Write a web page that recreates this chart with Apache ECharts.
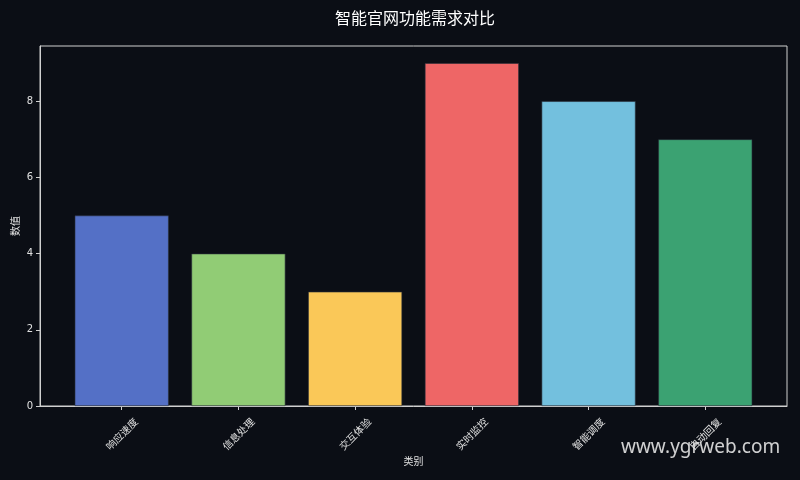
<!DOCTYPE html>
<html>
<head>
<meta charset="utf-8">
<script src="https://cdn.jsdelivr.net/npm/echarts@6/dist/echarts.min.js"></script>
<style>
html,body{margin:0;padding:0;background:#0b0e15;}
#c{width:800px;height:480px;}
</style>
</head>
<body>
<div id="c"></div>
<script>
const categories = ['响应速度', '信息处理', '交互体验', '实时监控', '智能调度', '自动回复'];
const values = [5, 4, 3, 9, 8, 7];
const colors = ['#5470c6', '#91cc75', '#fac858', '#ee6666', '#73c0de', '#3ba272'];
const yTicks = [0, 2, 4, 6, 8];

const chart = echarts.init(document.getElementById('c'));
const catIdx = categories.map((_, i) => i);
chart.setOption({
  backgroundColor: '#0b0e15',
  animation: false,
  title: {
    text: '智能官网功能需求对比',
    left: 410, top: 5, textAlign: 'center',
    textStyle: { color: '#ffffff', fontSize: 16, fontWeight: 'normal', fontFamily: 'Noto Sans CJK SC' }
  },
  grid: { left: 40, right: 13, top: 46, bottom: 74, containLabel: false, outerBoundsMode: 'none', show: true, borderColor: '#d0d0d0', borderWidth: 1, backgroundColor: 'transparent' },
  xAxis: {
    type: 'value', min: -0.7, max: 5.7,
    name: '类别', nameLocation: 'middle', nameGap: 50, nameMoveOverlap: false,
    nameTextStyle: { color: '#e0e0e0', fontSize: 10, fontFamily: 'Noto Sans CJK SC' },
    splitLine: { show: false },
    axisLine: { show: true, onZero: false, lineStyle: { color: '#d0d0d0' } },
    axisTick: { show: true, length: 4, lineStyle: { color: '#d0d0d0' }, customValues: catIdx },
    axisLabel: {
      customValues: catIdx,
      formatter: v => categories[Math.round(v)] || '',
      rotate: 45, align: 'center', verticalAlign: 'middle', margin: 28,
      hideOverlap: false,
      color: '#e0e0e0', fontSize: 10, fontFamily: 'Noto Sans CJK SC'
    }
  },
  yAxis: {
    type: 'value', min: 0, max: 9.45,
    name: '数值', nameLocation: 'middle', nameGap: 20, nameMoveOverlap: false,
    nameTextStyle: { color: '#e0e0e0', fontSize: 10, fontFamily: 'Noto Sans CJK SC' },
    splitLine: { show: false },
    axisLine: { show: true, onZero: false, lineStyle: { color: '#d0d0d0' } },
    axisTick: { show: true, length: 4, lineStyle: { color: '#d0d0d0' }, customValues: yTicks },
    axisLabel: { customValues: yTicks, color: '#e0e0e0', fontSize: 10, margin: 7, fontFamily: 'DejaVu Sans' }
  },
  series: [{
    type: 'bar',
    barWidth: 94,
    data: values.map((v, i) => ({ value: [i, v], itemStyle: { color: colors[i], borderColor: '#2a2f3a', borderWidth: 0.6 } }))
  }],
  graphic: [{
    type: 'text', left: 621, top: 438, z: 100,
    style: { text: 'www.ygrweb.com', fill: 'rgba(230,230,230,0.9)', fontSize: 19, fontFamily: 'Noto Sans' }
  }]
});
</script>
</body>
</html>
